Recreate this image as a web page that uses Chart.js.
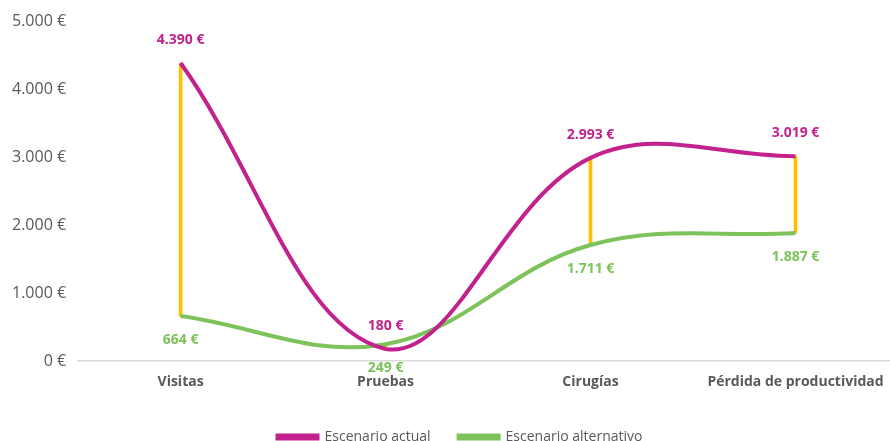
<!DOCTYPE html>
<html>
<head>
<meta charset="utf-8">
<script src="https://cdn.jsdelivr.net/npm/chart.js@4"></script>
<style>
  html, body { margin: 0; padding: 0; background: #ffffff; overflow: hidden; }
  #wrap { width: 898px; height: 441px; position: relative; }
</style>
</head>
<body>
<div id="wrap"><canvas id="chart"></canvas></div>
<script>
'use strict';

const categories = ['Visitas', 'Pruebas', 'Cirugías', 'Pérdida de productividad'];
const actualValues = [4390, 180, 2993, 3019];
const alternativeValues = [664, 249, 1711, 1887];
const seriesNames = ['Escenario actual', 'Escenario alternativo'];

const MAGENTA = '#C3228E';
const GREEN = '#7DC25A';
const ORANGE = '#FFC000';
const FONT = '"Open Sans", Lato, sans-serif';

function formatEuro(value) {
  return Number(value).toLocaleString('de-DE') + ' €';
}

const valueLabels = {
  id: 'valueLabels',
  afterDatasetsDraw(chart) {
    const ctx = chart.ctx;
    ctx.save();
    ctx.font = 'bold 14px ' + FONT;
    ctx.textAlign = 'center';
    ctx.textBaseline = 'middle';
    chart.data.datasets.forEach((ds, di) => {
      if (ds.type !== 'line') return;
      const meta = chart.getDatasetMeta(di);
      const shift = ds.labelAbove ? -23 : 24;
      meta.data.forEach((pt, i) => {
        ctx.fillStyle = ds.borderColor;
        ctx.fillText(formatEuro(ds.data[i]), pt.x, pt.y + shift);
      });
    });
    ctx.restore();
  }
};

// legend sits a little right of centre in the original
const legendShift = {
  id: 'legendShift',
  afterLayout(chart) {
    chart.legend.left += 11;
    chart.legend.right += 11;
  }
};

const highLow = categories.map((_, i) => [
  Math.min(actualValues[i], alternativeValues[i]),
  Math.max(actualValues[i], alternativeValues[i])
]);

new Chart(document.getElementById('chart'), {
  type: 'line',
  data: {
    labels: categories,
    datasets: [
      {
        type: 'line',
        label: seriesNames[0],
        data: actualValues,
        borderColor: MAGENTA,
        backgroundColor: MAGENTA,
        borderWidth: 4,
        pointRadius: 0,
        tension: 0.38,
        labelAbove: true,
        order: 1
      },
      {
        type: 'line',
        label: seriesNames[1],
        data: alternativeValues,
        borderColor: GREEN,
        backgroundColor: GREEN,
        borderWidth: 4,
        pointRadius: 0,
        tension: 0.38,
        labelAbove: false,
        order: 2
      },
      {
        type: 'bar',
        label: 'highlow',
        data: highLow,
        backgroundColor: ORANGE,
        barThickness: 3,
        order: 3
      }
    ]
  },
  options: {
    responsive: true,
    maintainAspectRatio: false,
    animation: false,
    layout: { padding: { top: 2, right: 0, bottom: -13, left: 0 } },
    plugins: {
      tooltip: { enabled: false },
      legend: {
        position: 'bottom',
        labels: {
          filter: item => item.text !== 'highlow',
          boxWidth: 40,
          boxHeight: 3,
          padding: 28,
          color: '#595959',
          font: { family: FONT, size: 14 }
        }
      }
    },
    scales: {
      x: {
        offset: true,
        grid: { display: false, drawTicks: false },
        border: { color: '#D9D9D9', width: 1.5 },
        ticks: { color: '#595959', padding: 12, font: { family: FONT, size: 14, weight: 'bold' } }
      },
      y: {
        min: 0,
        max: 5000,
        grid: { display: false, drawTicks: false },
        border: { display: false },
        ticks: {
          stepSize: 1000,
          padding: 12,
          color: '#595959',
          font: { family: FONT, size: 16 },
          callback: value => formatEuro(value)
        }
      }
    }
  },
  plugins: [valueLabels, legendShift]
});
</script>
</body>
</html>
